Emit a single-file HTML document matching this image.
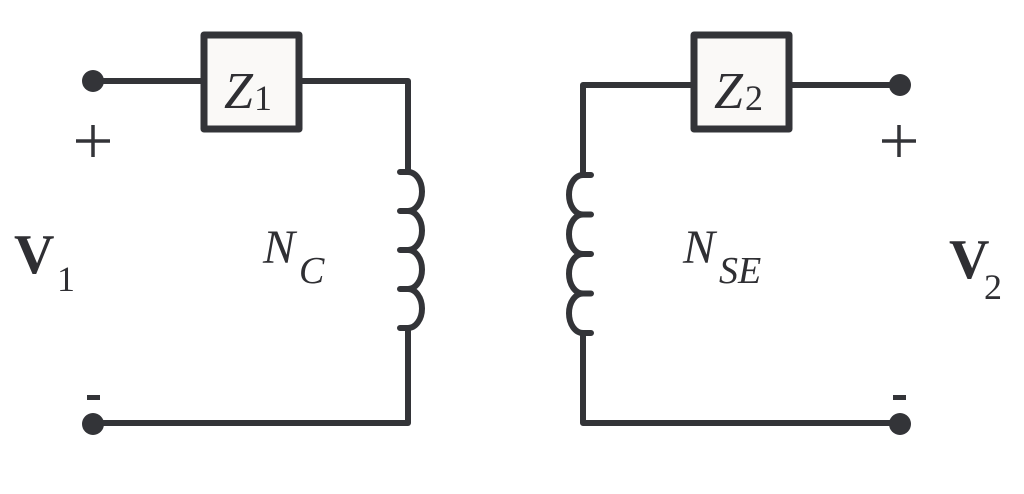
<!DOCTYPE html>
<html><head><style>
html,body{margin:0;padding:0;background:#fff;}
svg{display:block;}
</style></head><body>
<svg width="1024" height="494" viewBox="0 0 1024 494" xmlns="http://www.w3.org/2000/svg">
<g stroke="#333438" stroke-width="6" fill="none" stroke-linecap="round" stroke-linejoin="round">
<path d="M92 81 H202"/>
<path d="M300 81 H408 V172"/>
<path d="M408 172 a14 19.5 0 0 1 0 39 a14 19.5 0 0 1 0 39 a14 19.5 0 0 1 0 39 a14 19.5 0 0 1 0 39"/>
<path d="M400 172 H408 M400 211 H408 M400 250 H408 M400 289 H408 M400 328 H408"/>
<path d="M408 328 V423 H92"/>
<rect x="204" y="35" width="95" height="94" fill="#faf9f7" stroke-width="7"/>
<path d="M900 85 H790"/>
<path d="M692 85 H583 V175"/>
<path d="M583 175 a14 19.75 0 0 0 0 39.5 a14 19.75 0 0 0 0 39.5 a14 19.75 0 0 0 0 39.5 a14 19.75 0 0 0 0 39.5"/>
<path d="M583 175 H591 M583 214.5 H591 M583 254 H591 M583 293.5 H591 M583 333 H591"/>
<path d="M583 333 V423 H900"/>
<rect x="694" y="35" width="95" height="94" fill="#faf9f7" stroke-width="7"/>
</g>
<g stroke="#333438" stroke-width="3.5" fill="none">
<path d="M76 141 H110 M93 125 V157"/>
<path d="M882 141 H916 M899 125 V157"/>
</g>
<g fill="#333438">
<circle cx="93" cy="81" r="11"/>
<circle cx="93" cy="424" r="11"/>
<circle cx="900" cy="85" r="11"/>
<circle cx="900" cy="424" r="11"/>
<rect x="87" y="395" width="13" height="5"/>
<rect x="893" y="395" width="13" height="5"/>
</g>
<g font-family="'Liberation Serif','Times New Roman',Times,serif" fill="#2f2f33">
<text x="224" y="108" font-size="52" font-style="italic">Z</text>
<text x="254" y="110" font-size="36">1</text>
<text x="714" y="108" font-size="52" font-style="italic">Z</text>
<text x="745" y="110" font-size="36">2</text>
<text x="14" y="273" font-size="56" font-weight="bold">V</text>
<text x="57" y="291" font-size="36">1</text>
<text x="949" y="278" font-size="56" font-weight="bold">V</text>
<text x="984" y="299" font-size="36">2</text>
<text x="263" y="263" font-size="48" font-style="italic">N</text>
<text x="299" y="283" font-size="38" font-style="italic">C</text>
<text x="683" y="263" font-size="48" font-style="italic">N</text>
<text x="719" y="283" font-size="38" font-style="italic">SE</text>
</g>
</svg>
</body></html>
